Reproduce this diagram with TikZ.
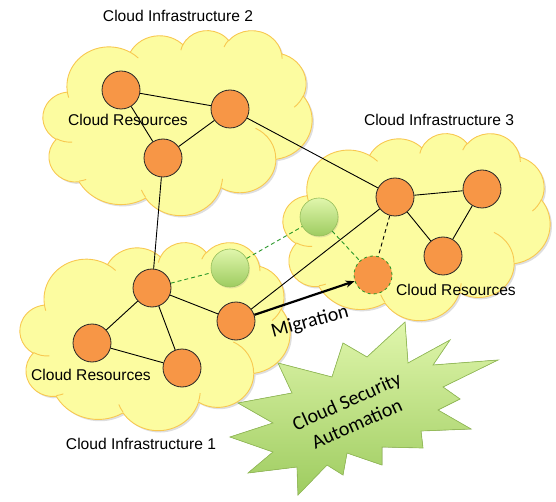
\documentclass[tikz,border=0pt]{standalone}
\usepackage{fontspec}
\setmainfont{Liberation Sans}
\newfontfamily\calibri{Carlito}
\usetikzlibrary{shadows,arrows.meta}
\definecolor{cloudfill}{RGB}{252,252,160}
\definecolor{clouddraw}{RGB}{248,200,80}
\definecolor{orangefill}{RGB}{247,150,70}
\definecolor{greenlight}{RGB}{224,246,172}
\definecolor{greendark}{RGB}{158,204,96}
\definecolor{greenborder}{RGB}{150,190,90}
\definecolor{greenline}{RGB}{40,150,40}
\tikzset{
  res/.style={circle, draw=black!85, fill=orangefill, minimum size=38pt, inner sep=0pt, line width=0.8pt},
  moved/.style={circle, draw=greenline, dashed, fill=orangefill, minimum size=38pt, inner sep=0pt, line width=0.8pt},
  ghost/.style={circle, draw=greenborder, top color=greenlight, bottom color=greendark, minimum size=38pt, inner sep=0pt, line width=0.6pt,
    drop shadow={opacity=0.2, shadow xshift=1pt, shadow yshift=-1.5pt}},
  link/.style={draw=black, line width=0.9pt},
  dlink/.style={draw=black, line width=0.9pt, dash pattern=on 4pt off 3pt},
  glink/.style={draw=greenline, line width=0.9pt, dash pattern=on 4pt off 3pt},
  lab/.style={font=\fontsize{15.6}{18}\selectfont, anchor=base, inner sep=0pt},
  startxt/.style={font=\calibri\fontsize{20}{23}\selectfont, rotate=24, inner sep=0pt},
  starbox/.style={draw=greenborder, line width=0.7pt, top color=greenlight, bottom color=greendark},
  cloudline/.style={draw=clouddraw, line width=0.9pt}
}
% PowerPoint-like cloud outline in a 432 x 432 box
\def\cloudpath{(39,143.7)
 arc[start angle=-187.74, delta angle=128.11, x radius=67.53, y radius=91.90]
 arc[start angle=-152.03, delta angle=106.58, x radius=53.33, y radius=72.67]
 arc[start angle=-153.48, delta angle=116.16, x radius=43.65, y radius=59.45]
 arc[start angle=-139.72, delta angle=129.51, x radius=48.57, y radius=65.95]
 arc[start angle=-74.77, delta angle=97.98, x radius=53.33, y radius=72.73]
 arc[start angle=-37.52, delta angle=119.38, x radius=67.75, y radius=92.20]
 arc[start angle=0.46, delta angle=121.50, x radius=57.85, y radius=78.67]
 arc[start angle=16.85, delta angle=129.37, x radius=67.52, y radius=92.15]
 arc[start angle=59.00, delta angle=91.18, x radius=77.20, y radius=105.43]
 arc[start angle=-276.70, delta angle=139.79, x radius=43.60, y radius=59.18]
 arc[start angle=-239.63, delta angle=143.74, x radius=43.45, y radius=59.45]
 -- cycle}
\def\cloudinner{
 (46.93,261.77) arc[start angle=85.54, delta angle=34.83, x radius=43.45, y radius=59.45]
 (69.28,348.99) arc[start angle=68.25, delta angle=15.05, x radius=43.60, y radius=59.18]
 (164.78,390.90) arc[start angle=146.22, delta angle=12.26, x radius=67.52, y radius=92.15]
 (288.27,347.51) arc[start angle=4.74, delta angle=12.11, x radius=67.52, y radius=92.15]
 (341.29,229.54) arc[start angle=-64.0, delta angle=64.46, x radius=57.85, y radius=78.67]
 (417.98,153.54) arc[start angle=23.21, delta angle=26.47, x radius=53.33, y radius=72.73]
 (383.24,54.26) arc[start angle=-10.21, delta angle=11.03, x radius=48.57, y radius=65.95]
 (290.78,39.52) arc[start angle=-156.29, delta angle=16.57, x radius=48.57, y radius=65.95]
 (221.41,47.20) arc[start angle=-167.72, delta angle=14.24, x radius=43.65, y radius=59.45]
 (140.00,51.92) arc[start angle=-59.63, delta angle=13.89, x radius=67.53, y radius=91.90]
 (41.27,157.89) arc[start angle=163.18, delta angle=9.07, x radius=67.53, y radius=91.90]}
% #1,#2 top-left corner, #3,#4 scale factors (width/432, height/432)
\newcommand\pptcloud[4]{%
  \begin{scope}[shift={(#1+1.8,#2+1.8)}, x=#3pt, y=-#4pt]
    \fill[black, opacity=0.13] \cloudpath;
  \end{scope}
  \begin{scope}[shift={(#1,#2)}, x=#3pt, y=-#4pt]
    \fill[cloudfill] \cloudpath;
    \draw[cloudline] \cloudpath;
    \draw[cloudline] \cloudinner;
  \end{scope}}
\begin{document}
\begin{tikzpicture}[x=1pt,y=-1pt]
\useasboundingbox (0,0) rectangle (556,502);
% clouds
\pptcloud{43}{30}{0.6227}{0.4282}
\pptcloud{283}{133}{0.6181}{0.4329}
\pptcloud{20}{242}{0.6250}{0.4352}
% star
\filldraw[starbox] (405,322) -- (408,363) -- (450,340) -- (433,365) -- (498,360) -- (443,387) -- (460,399) -- (438,410) -- (471,429) -- (421,431) -- (423,448) -- (382,447) -- (382,465) -- (347,453) -- (343,475) -- (327,465) -- (298,495) -- (297,467) -- (248,473) -- (273,452) -- (230,437) -- (273,423) -- (238,403) -- (292,393) -- (278,363) -- (332,377) -- (343,343) -- (367,357) -- cycle;
\node[startxt] (st1) at (347.3,402.5) {Cloud Security};
\node[startxt] (st2) at (356.7,423.5) {Automation};
% resources
\node[res] (a) at (121,90) {};
\node[res] (b) at (230,109) {};
\node[res] (c) at (163,158) {};
\node[res] (d) at (395,197) {};
\node[res] (e) at (482,189) {};
\node[res] (f) at (443,256) {};
\node[moved] (g) at (373,275) {};
\node[ghost] (gc) at (319,217) {};
\node[res] (h) at (152,288) {};
\node[res] (i) at (92,343) {};
\node[res] (j) at (182,368) {};
\node[res] (k) at (236,321) {};
\node[ghost] (ga) at (230,268) {};
% links
\draw[link] (a) -- (b);
\draw[link] (a) -- (c);
\draw[link] (c) -- (b);
\draw[link] (b) -- (d);
\draw[link] (c) -- (h);
\draw[link] (d) -- (e);
\draw[link] (d) -- (f);
\draw[link] (e) -- (f);
\draw[link] (k) -- (d);
\draw[link] (h) -- (i);
\draw[link] (h) -- (j);
\draw[link] (h) -- (k);
\draw[link] (i) -- (j);
\draw[dlink] (d) -- (g);
\draw[glink] (h) -- (ga);
\draw[glink] (ga) -- (gc);
\draw[glink] (gc) -- (g);
\draw[line width=2.2pt, -{Stealth[length=9pt,width=7pt]}] (k) -- (g);
% labels
\node[lab] (l2) at (178,22) {Cloud Infrastructure 2};
\node[lab] (r2) at (128,126) {Cloud Resources};
\node[lab] (l3) at (439,126) {Cloud Infrastructure 3};
\node[lab] (r3) at (456,295) {Cloud Resources};
\node[lab] (r1) at (91,380) {Cloud Resources};
\node[lab] (l1) at (141,449) {Cloud Infrastructure 1};
\node[font=\calibri\fontsize{20}{23}\selectfont, rotate=15, inner sep=0pt] (mig) at (310,322) {Migration};
\end{tikzpicture}
\end{document}
